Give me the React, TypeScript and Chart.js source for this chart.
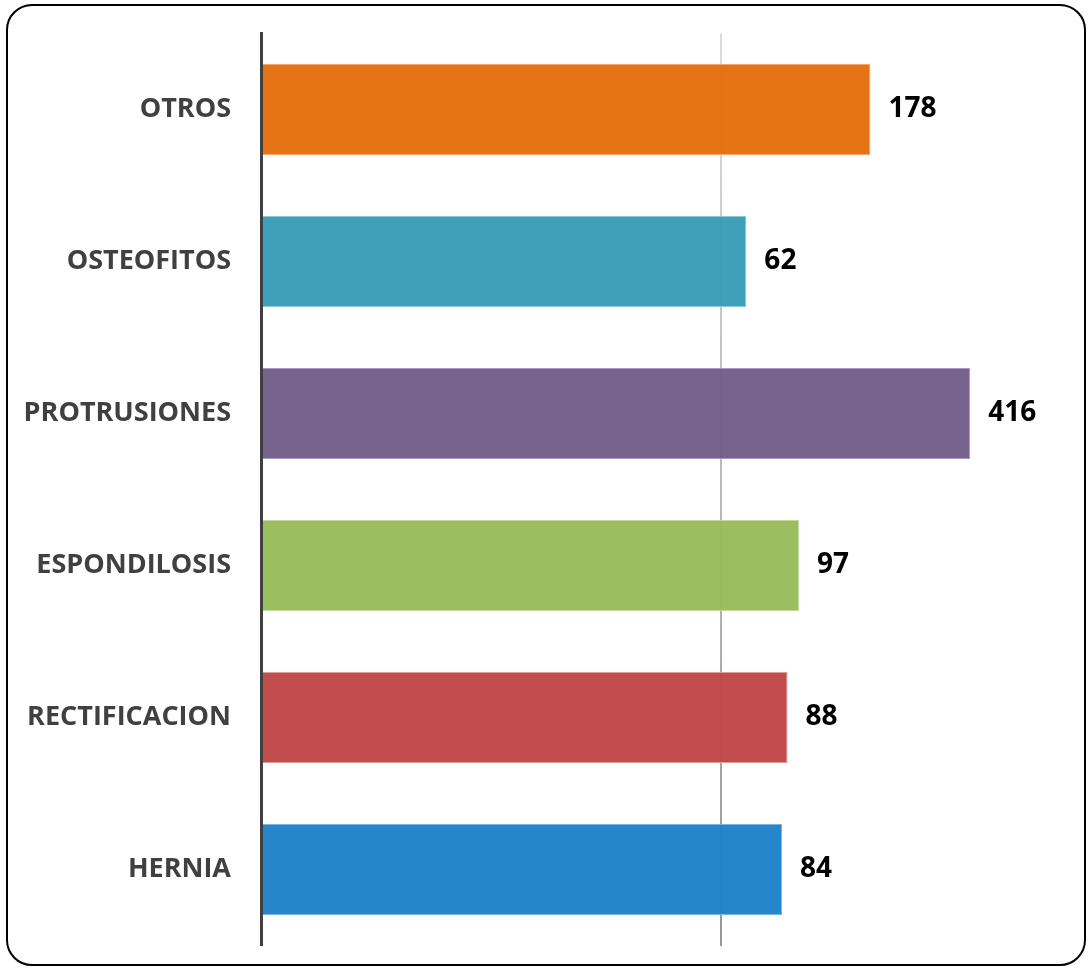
import React, { useEffect, useRef } from "react";
import { Chart, registerables } from "chart.js";

Chart.register(...registerables);

const categories = ["OTROS", "OSTEOFITOS", "PROTRUSIONES", "ESPONDILOSIS", "RECTIFICACION", "HERNIA"];
const values = [178, 62, 416, 97, 88, 84];
const fillColors = [
  "rgba(228,108,10,0.96)",
  "rgba(55,156,182,0.96)",
  "rgba(112,94,137,0.96)",
  "rgba(153,187,89,0.96)",
  "rgba(190,70,70,0.96)",
  "rgba(30,128,200,0.96)",
];
const borderColors = ["#F5A66A", "#8CC8D8", "#A898C0", "#C4DA9C", "#DE9C9C", "#78B4E4"];
const gridTicks = [1, 50];
const axisMin = 1;
const axisMax = 900;

const dataLabelPlugin = {
  id: "dataLabels",
  afterDatasetsDraw(chart: any) {
    const ctx = chart.ctx;
    const meta = chart.getDatasetMeta(0);
    ctx.save();
    ctx.font = "bold 28px 'Open Sans'";
    ctx.fillStyle = "#000000";
    ctx.textAlign = "left";
    ctx.textBaseline = "middle";
    meta.data.forEach((bar: any, i: number) => {
      ctx.fillText(String(values[i]), bar.x + 18, bar.y);
    });
    ctx.restore();
  },
};

export default function App() {
  const canvasRef = useRef<HTMLCanvasElement | null>(null);

  useEffect(() => {
    if (!canvasRef.current) return;
    const chart = new Chart(canvasRef.current, {
      type: "bar",
      data: {
        labels: categories,
        datasets: [
          {
            data: values,
            backgroundColor: fillColors,
            borderColor: borderColors,
            borderWidth: 1,
            categoryPercentage: 0.6,
            barPercentage: 1,
          },
        ],
      },
      options: {
        indexAxis: "y",
        animation: false,
        responsive: false,
        maintainAspectRatio: false,
        layout: { padding: { top: 33.5, bottom: 24.5, right: 30, left: 0 } },
        plugins: { legend: { display: false }, tooltip: { enabled: false } },
        scales: {
          x: {
            type: "logarithmic",
            min: axisMin,
            max: axisMax,
            bounds: "data",
            afterBuildTicks: (scale: any) => {
              scale.ticks = gridTicks.map((v) => ({ value: v }));
            },
            afterFit: (scale: any) => {
              scale.height = 0;
              scale.paddingLeft = 0;
              scale.paddingRight = 0;
              scale.paddingTop = 0;
              scale.paddingBottom = 0;
            },
            ticks: { display: false },
            border: { display: false },
            grid: {
              drawTicks: false,
              lineWidth: 2,
              color: (ctx: any) => {
                if (ctx.tick && ctx.tick.value === 1) return "rgba(0,0,0,0)";
                const c = ctx.chart;
                const area = c.chartArea;
                if (!area) return "#bbbbbb";
                const g = c.ctx.createLinearGradient(0, area.top, 0, area.bottom);
                g.addColorStop(0, "#dcdcdc");
                g.addColorStop(1, "#979797");
                return g;
              },
            },
          },
          y: {
            afterFit: (scale: any) => {
              scale.width = 261;
              scale.paddingLeft = 0;
              scale.paddingRight = 0;
              scale.paddingTop = 0;
              scale.paddingBottom = 0;
            },
            border: { display: true, color: "#404040", width: 3, z: 1 },
            grid: { display: false, drawTicks: false },
            ticks: {
              padding: 30,
              color: "#404040",
              font: { family: "'Open Sans'", size: 27, weight: "bold" },
            },
          },
        },
      },
      plugins: [dataLabelPlugin],
    } as any);
    return () => chart.destroy();
  }, []);

  return (
    <div style={{ position: "absolute", left: 0, top: 0, width: 1091, height: 970, background: "#ffffff" }}>
      <div
        style={{
          position: "absolute",
          left: 6,
          top: 4,
          width: 1080,
          height: 962,
          border: "2px solid #000000",
          borderRadius: 26,
          boxSizing: "border-box",
        }}
      />
      <canvas ref={canvasRef} width={1091} height={970} style={{ position: "absolute", left: 0, top: 0 }} />
    </div>
  );
}
